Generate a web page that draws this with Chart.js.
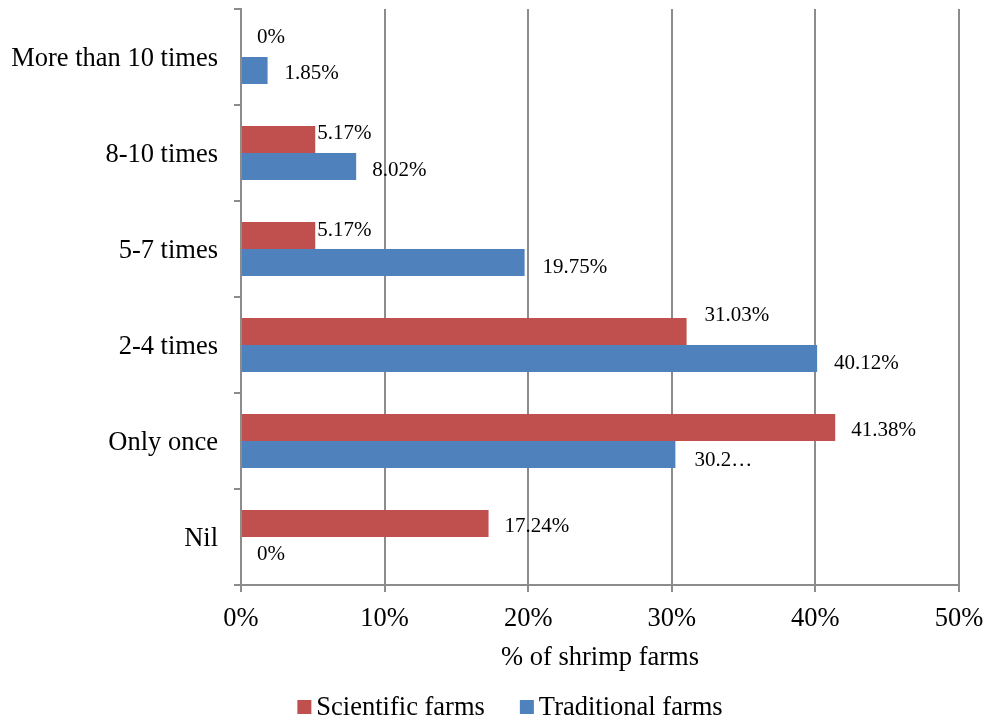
<!DOCTYPE html>
<html>
<head>
<meta charset="utf-8">
<title>Shrimp farms</title>
<script src="https://cdn.jsdelivr.net/npm/chart.js@4.4.1/dist/chart.umd.min.js"></script>
<style>
  html, body { margin: 0; padding: 0; background: #ffffff; }
  #wrap { width: 984px; height: 720px; position: relative; }
</style>
</head>
<body>
<div id="wrap"><canvas id="chart" width="984" height="720"></canvas></div>
<script>
// Frequency categories, top to bottom
const categories = ['More than 10 times', '8-10 times', '5-7 times', '2-4 times', 'Only once', 'Nil'];
// Share of farms (%) per category
const scientificValues = [0, 5.17, 5.17, 31.03, 41.38, 17.24];
const traditionalValues = [1.85, 8.02, 19.75, 40.12, 30.25, 0];
// Axis ticks (%)
const xTicks = [0, 10, 20, 30, 40, 50];

const SERIF = '"Liberation Serif", "Times New Roman", serif';
const GRID = '#8c8c8c';
const AXIS_FONT = 26.5;

function pctText(v) { return v + '%'; }
const scientificText = scientificValues.map(pctText);
const traditionalText = traditionalValues.map(pctText);
// the narrow label box in "Only once" cuts the text short
traditionalText[4] = String(traditionalValues[4]).slice(0, 4) + '\u2026';

// label offsets from the bar end [dx, dy]
const scientificNudge = [[16, -6], [2, -6], [2, -5], [18, -16], [16, 3], [16, 3]];
const traditionalNudge = [[17, 3], [16, 4], [18, 5], [17, 5], [19, 6], [16, 4]];

const valueLabels = {
  id: 'valueLabels',
  afterDatasetsDraw(chart) {
    const ctx = chart.ctx;
    const sets = [[scientificText, scientificNudge], [traditionalText, traditionalNudge]];
    ctx.save();
    ctx.font = '21px ' + SERIF;
    ctx.fillStyle = '#000000';
    ctx.textAlign = 'left';
    ctx.textBaseline = 'middle';
    sets.forEach(([texts, nudge], di) => {
      const meta = chart.getDatasetMeta(di);
      meta.data.forEach((bar, i) => {
        ctx.fillText(texts[i], bar.x + nudge[i][0], bar.y + nudge[i][1]);
      });
    });
    ctx.restore();
  }
};

const bottomLegend = {
  id: 'bottomLegend',
  afterDraw(chart) {
    const ctx = chart.ctx;
    const items = chart.data.datasets.map(d => ({ text: d.label, color: d.backgroundColor }));
    const box = 14, gapText = 5, gapItem = 35, centerX = 510, rowY = 706;
    ctx.save();
    ctx.font = AXIS_FONT + 'px ' + SERIF;
    ctx.textBaseline = 'middle';
    ctx.textAlign = 'left';
    const widths = items.map(it => ctx.measureText(it.text).width);
    let total = 0;
    items.forEach((it, i) => { total += box + gapText + widths[i] + (i < items.length - 1 ? gapItem : 0); });
    let x = centerX - total / 2;
    items.forEach((it, i) => {
      ctx.fillStyle = it.color;
      ctx.fillRect(x, rowY - 6, box, box);
      x += box + gapText;
      ctx.fillStyle = '#000000';
      ctx.fillText(it.text, x, rowY + 2);
      x += widths[i] + gapItem;
    });
    ctx.restore();
  }
};

new Chart(document.getElementById('chart'), {
  type: 'bar',
  data: {
    labels: categories,
    datasets: [
      { label: 'Scientific farms', data: scientificValues, backgroundColor: '#C0504D',
        barPercentage: 1.0, categoryPercentage: 0.5625 },
      { label: 'Traditional farms', data: traditionalValues, backgroundColor: '#4F81BD',
        barPercentage: 1.0, categoryPercentage: 0.5625 }
    ]
  },
  options: {
    indexAxis: 'y',
    responsive: false,
    animation: false,
    devicePixelRatio: 1,
    layout: { padding: { left: 0, right: 25, top: 9, bottom: 45 } },
    plugins: {
      legend: { display: false },
      tooltip: { enabled: false }
    },
    scales: {
      x: {
        min: 0, max: 50,
        afterBuildTicks(scale) { scale.ticks = xTicks.map(v => ({ value: v })); },
        afterFit(scale) {
          scale.height = 90;
          scale.paddingLeft = 0;
          scale.paddingRight = 0;
        },
        ticks: {
          color: '#000000',
          font: { family: SERIF, size: AXIS_FONT },
          padding: 11,
          callback: v => v + '%'
        },
        grid: { color: GRID, lineWidth: 2, tickLength: 7, drawOnChartArea: true },
        border: { color: GRID, width: 2 },
        title: {
          display: true,
          text: '% of shrimp farms',
          color: '#000000',
          font: { family: SERIF, size: AXIS_FONT },
          padding: { top: 0, bottom: 1 }
        }
      },
      y: {
        afterFit(scale) {
          scale.width = 241;
          scale.paddingTop = 0;
          scale.paddingBottom = 0;
        },
        ticks: {
          color: '#000000',
          font: { family: SERIF, size: AXIS_FONT },
          padding: 16,
          labelOffset: 2
        },
        grid: { display: true, drawOnChartArea: false, offset: true, color: GRID, lineWidth: 2, tickLength: 7 },
        border: { color: GRID, width: 2 }
      }
    }
  },
  plugins: [valueLabels, bottomLegend]
});
</script>
</body>
</html>
